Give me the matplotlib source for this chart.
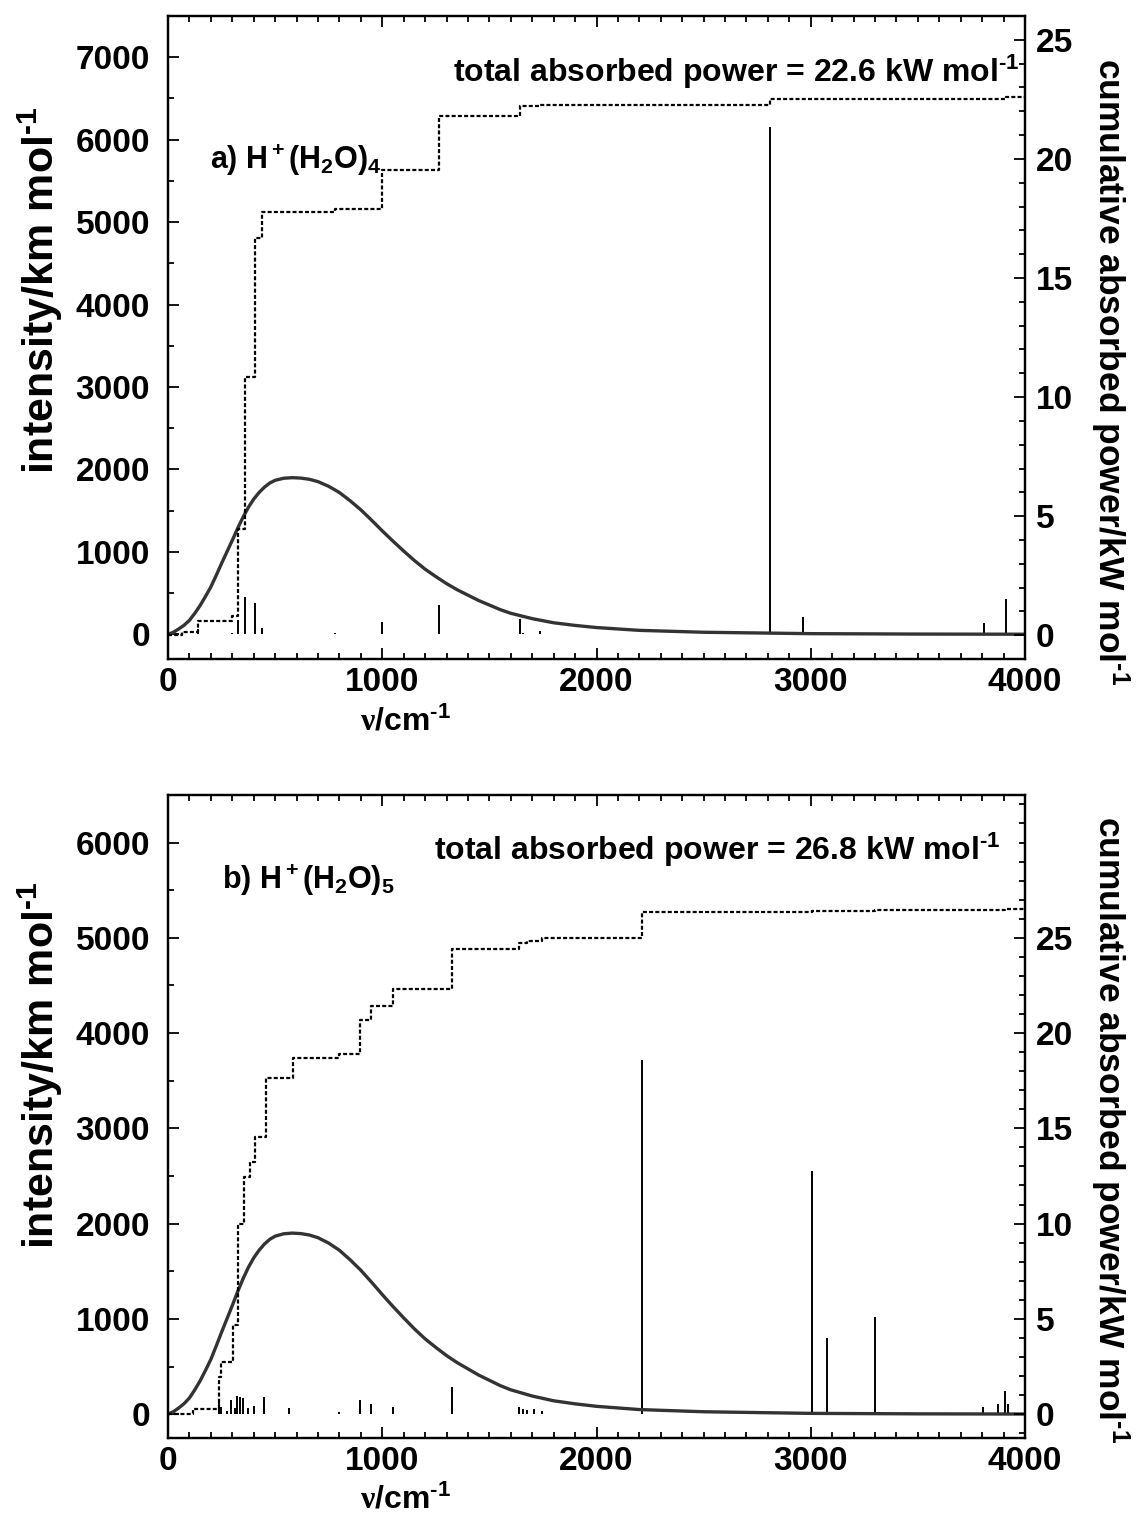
import matplotlib
matplotlib.use("Agg")
import matplotlib.pyplot as plt
from matplotlib.ticker import MultipleLocator, FixedLocator

plt.rcParams["font.family"] = "Liberation Sans"
plt.rcParams["font.weight"] = "bold"
plt.rcParams["mathtext.fontset"] = "custom"
plt.rcParams["mathtext.rm"] = "Liberation Sans:bold"
plt.rcParams["mathtext.bf"] = "Liberation Sans:bold"
plt.rcParams["mathtext.it"] = "Liberation Serif"
plt.rcParams["mathtext.default"] = "bf"

# weighting curve (same in both panels)
curve_nu = [0, 25, 50, 75, 100, 125, 150, 175, 200, 225, 250, 275, 300, 325, 350, 375, 400,
            425, 450, 475, 500, 540, 580, 620, 660, 700, 750, 800, 850, 900, 950, 1000,
            1050, 1100, 1150, 1200, 1250, 1300, 1350, 1400, 1450, 1500, 1550, 1600, 1700,
            1800, 1900, 2000, 2200, 2500, 3000, 3500, 4000]
curve_int = [0, 25, 65, 110, 170, 255, 350, 460, 575, 715, 860, 1000, 1140, 1285, 1420, 1540, 1640,
             1720, 1785, 1835, 1868, 1893, 1900, 1895, 1880, 1852, 1795, 1720, 1620, 1510, 1385, 1255,
             1130, 1010, 895, 790, 700, 615, 540, 475, 410, 355, 300, 255, 190,
             140, 108, 82, 48, 25, 8, 3, 1]

# a) H+(H2O)4
sticks_a_nu = [140, 297, 328, 359, 406, 437, 779, 1000, 1266, 1643, 1655, 1736, 2810, 2965, 3809, 3910]
sticks_a_int = [60, 20, 170, 450, 385, 80, 10, 150, 350, 180, 15, 36, 6150, 210, 140, 425]
cum_a_nu = [0, 64, 140, 297, 328, 359, 406, 437, 779, 1000, 1266, 1643, 1736, 2810, 3910, 4000]
cum_a_val = [0, 0.15, 0.61, 0.8, 4.48, 10.84, 16.68, 17.77, 17.9, 19.55, 21.8, 22.2, 22.25, 22.5, 22.6, 22.6]

# b) H+(H2O)5
sticks_b_nu = [240, 247, 274, 294, 313, 324, 336, 348, 372, 401, 450, 566, 800, 896, 947, 1052,
               1327, 1640, 1655, 1675, 1710, 1745, 2214, 3006, 3077, 3301, 3805, 3873, 3907, 3921]
sticks_b_int = [150, 80, 28, 150, 63, 190, 175, 165, 63, 88, 180, 63, 20, 145, 105, 80,
                290, 70, 55, 40, 50, 30, 3720, 2550, 800, 1020, 75, 105, 240, 110]
cum_b_nu = [0, 118, 238, 245, 303, 327, 356, 383, 408, 459, 582, 800, 896, 946, 1052, 1327,
            1640, 1675, 1745, 2214, 3006, 3301, 3907, 4000]
cum_b_val = [0, 0.26, 1.94, 2.76, 4.68, 9.96, 12.42, 13.24, 14.53, 17.65, 18.68, 18.88, 20.7,
             21.4, 22.3, 24.4, 24.7, 24.85, 25.0, 26.35, 26.4, 26.45, 26.5, 26.5]

FS = 24


def panel(rect, s_nu, s_int, c_nu, c_val, ylim_l, ylim_r, lmax, label, label_xy, total, total_xy):
    ax = fig.add_axes(rect)
    ax2 = ax.twinx()
    ax.vlines(s_nu, 0, s_int, color="black", lw=1.4)
    ax.plot(curve_nu, curve_int, color="#333333", lw=2.4)
    ax2.step(c_nu, c_val, where="post", color="black", lw=1.6, linestyle=(0, (1.8, 1.0)))
    ax.set_xlim(0, 4000)
    ax.set_ylim(*ylim_l)
    ax2.set_ylim(*ylim_r)
    ax.xaxis.set_major_locator(MultipleLocator(1000))
    ax.xaxis.set_minor_locator(MultipleLocator(100))
    ax.yaxis.set_major_locator(FixedLocator(list(range(0, lmax + 1, 1000))))
    ax.yaxis.set_minor_locator(MultipleLocator(500))
    ax2.yaxis.set_major_locator(FixedLocator([0, 5, 10, 15, 20, 25]))
    ax2.yaxis.set_minor_locator(MultipleLocator(1))
    ax.tick_params(axis="x", which="both", direction="in", top=True, labelsize=FS, pad=6, width=1.3)
    ax.tick_params(axis="y", which="both", direction="in", right=False, labelsize=FS, pad=13, width=1.3)
    ax2.tick_params(axis="y", which="both", direction="in", labelsize=FS, pad=8, width=1.3)
    for a in (ax, ax2):
        a.tick_params(which="major", length=8)
        a.tick_params(which="minor", length=4.5)
        for sp in a.spines.values():
            sp.set_linewidth(1.6)
    ax.text(*label_xy, label, transform=ax.transAxes, fontsize=22, ha="left", va="center")
    ax.text(*total_xy, total, transform=ax.transAxes, fontsize=23, ha="right", va="center")
    return ax


fig = plt.figure(figsize=(11.36, 15.21), dpi=100)

panel([0.1479, 0.5667, 0.7544, 0.4228], sticks_a_nu, sticks_a_int, cum_a_nu, cum_a_val,
      (-300, 7500), (-1, 26), 7000, r"a) H$^+$(H$_2$O)$_4$", (0.049, 0.776),
      r"total absorbed power = 22.6 kW mol$^{\text{-1}}$", (0.994, 0.913))
panel([0.1479, 0.0546, 0.7544, 0.4228], sticks_b_nu, sticks_b_int, cum_b_nu, cum_b_val,
      (-250, 6500), (-1.25, 32.5), 6000, r"b) H$^+$(H$_2$O)$_5$", (0.063, 0.868),
      r"total absorbed power = 26.8 kW mol$^{\text{-1}}$", (0.971, 0.914))

W, H = 1136, 1521
for yc in (290, 1065):
    fig.text(40 / W, 1 - yc / H, r"intensity/km mol$^{\text{-1}}$", rotation=90,
             ha="center", va="center", fontsize=31)
for yc in (372, 1130):
    fig.text(1110 / W, 1 - yc / H, r"cumulative absorbed power/kW mol$^{\text{-1}}$", rotation=270,
             ha="center", va="center", fontsize=25.5)
for yc in (722, 1500):
    fig.text(405 / W, 1 - yc / H, r"$\mathit{\nu}$/cm$^{\text{-1}}$", ha="center", va="center", fontsize=23)

fig.savefig("out.png", dpi=100)
